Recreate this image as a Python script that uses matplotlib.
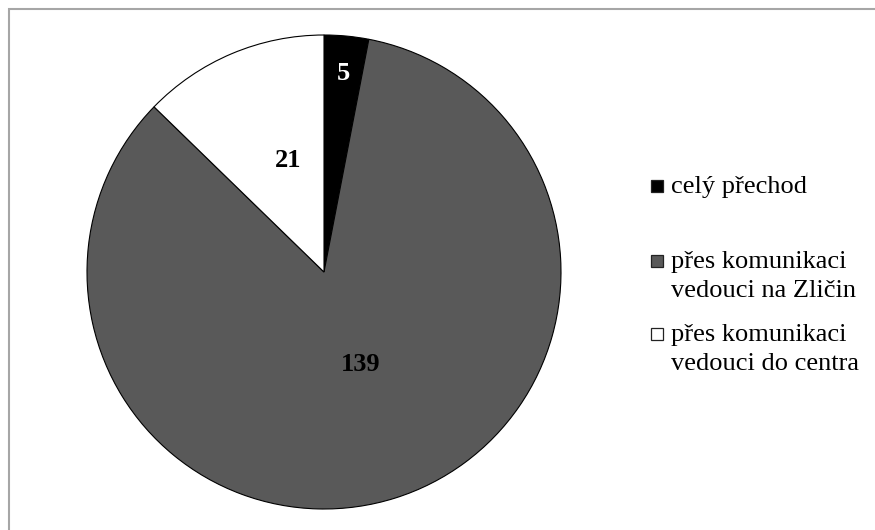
import numpy as np
import matplotlib
matplotlib.use("Agg")
import matplotlib.pyplot as plt
from matplotlib.patches import Rectangle

# Data
labels = ["celý přechod", "přes komunikaci\nvedouci na Zličin", "přes komunikaci\nvedouci do centra"]
values = [5, 139, 21]
colors = ["#000000", "#595959", "#ffffff"]
label_colors = ["white", "black", "black"]
label_dist = [0.85, 0.41, 0.52]
label_shift = [(0, -2), (8, 0), (12, -2)]  # px nudges (x right, y up)

plt.rcParams['font.family'] = ['Liberation Serif', 'DejaVu Serif']

W, H = 875, 530
fig = plt.figure(figsize=(W / 100, H / 100), dpi=100)

# chart-area border (gray, running off right/bottom edges)
fig.patches.append(Rectangle((9 / W, -0.05), 1.0, (H - 9) / H + 0.05,
                             transform=fig.transFigure, fill=False,
                             edgecolor="#a6a6a6", linewidth=1.5))

# pie axes: centre at (324, 272) px, radius 237 px
cx, cy, r = 324, 272, 237
half = 240
ax = fig.add_axes([(cx - half) / W, (H - cy - half) / H, 2 * half / W, 2 * half / H])
wedges, _ = ax.pie(values, colors=colors, startangle=90, counterclock=False,
                   wedgeprops=dict(edgecolor="black", linewidth=0.8))
ax.set_xlim(-half / r, half / r)
ax.set_ylim(-half / r, half / r)
ax.set_aspect("equal")
ax.axis("off")

for w, v, c, d, (sx, sy) in zip(wedges, values, label_colors, label_dist, label_shift):
    ang = np.deg2rad((w.theta1 + w.theta2) / 2)
    ax.text(d * np.cos(ang) + sx / r, d * np.sin(ang) + sy / r, str(v),
            ha="center", va="center", fontsize=19, fontweight="bold", color=c)

# legend drawn by hand so the marker sits on the first line
leg_y = [193, 268, 341]  # first-line baseline, px from top
for lab, col, y in zip(labels, colors, leg_y):
    fig.patches.append(Rectangle((651 / W, (H - y + 1) / H), 12 / W, 12 / H,
                                 transform=fig.transFigure, facecolor=col,
                                 edgecolor="#222222", linewidth=0.9))
    fig.text(671 / W, (H - y + 17) / H, lab, ha="left", va="top",
             fontsize=19, linespacing=1.42)

fig.savefig("out.png", dpi=100)
